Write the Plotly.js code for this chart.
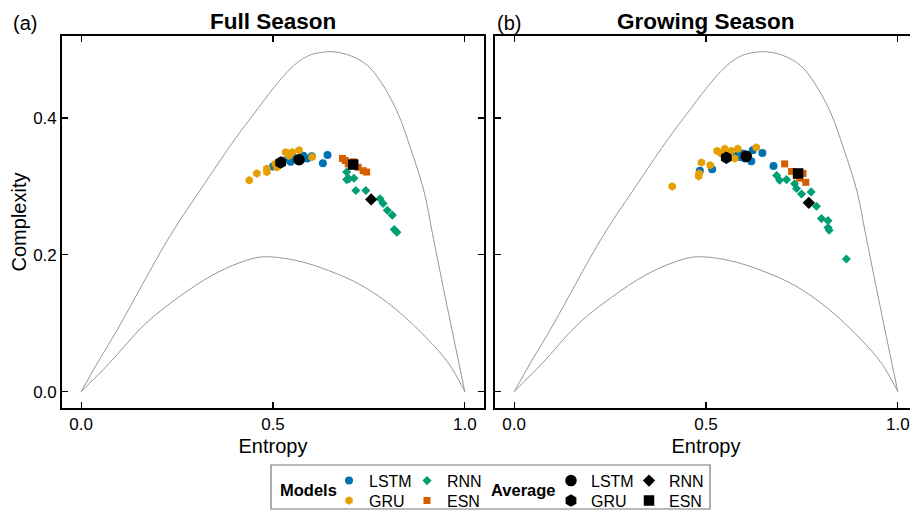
<!DOCTYPE html>
<html>
<head>
<meta charset="utf-8">
<script src="https://cdn.plot.ly/plotly-3.0.1.min.js"></script>
<style>
html, body { margin: 0; padding: 0; overflow: hidden; background: #fff; }
#chart { width: 920px; height: 510px; }
</style>
</head>
<body>
<div id="chart"></div>
<script>
// ---------- data ----------
const models = ['LSTM', 'GRU', 'RNN', 'ESN'];

// Full season
const fullLSTM_x = [0.500, 0.527, 0.546, 0.560, 0.576, 0.589, 0.601, 0.579, 0.642, 0.630, 0.550];
const fullLSTM_y = [0.329, 0.338, 0.336, 0.341, 0.341, 0.341, 0.344, 0.345, 0.346, 0.334, 0.345];
const fullGRU_x = [0.438, 0.458, 0.484, 0.484, 0.506, 0.516, 0.533, 0.542, 0.568, 0.602, 0.510, 0.550];
const fullGRU_y = [0.309, 0.319, 0.321, 0.326, 0.333, 0.336, 0.350, 0.345, 0.353, 0.343, 0.328, 0.350];
const fullRNN_x = [0.692, 0.698, 0.711, 0.692, 0.716, 0.742, 0.779, 0.798, 0.811, 0.816, 0.823, 0.787];
const fullRNN_y = [0.321, 0.311, 0.312, 0.310, 0.294, 0.294, 0.282, 0.265, 0.258, 0.237, 0.233, 0.275];
const fullESN_x = [0.681, 0.696, 0.709, 0.722, 0.735, 0.744, 0.688];
const fullESN_y = [0.341, 0.333, 0.336, 0.328, 0.323, 0.321, 0.338];
const fullAvg_x = [0.568, 0.520, 0.756, 0.709];   // LSTM, GRU, RNN, ESN
const fullAvg_y = [0.339, 0.335, 0.281, 0.332];

// Growing season
const growLSTM_x = [0.484, 0.516, 0.676, 0.647, 0.618, 0.596, 0.588, 0.622, 0.579, 0.601];
const growLSTM_y = [0.323, 0.325, 0.330, 0.349, 0.337, 0.348, 0.343, 0.353, 0.345, 0.341];
const growGRU_x = [0.412, 0.488, 0.482, 0.511, 0.529, 0.549, 0.566, 0.583, 0.631, 0.575, 0.540, 0.481];
const growGRU_y = [0.300, 0.335, 0.319, 0.331, 0.352, 0.355, 0.352, 0.355, 0.357, 0.341, 0.348, 0.315];
const growRNN_x = [0.684, 0.692, 0.710, 0.731, 0.736, 0.749, 0.774, 0.788, 0.801, 0.818, 0.818, 0.821, 0.866];
const growRNN_y = [0.316, 0.309, 0.310, 0.304, 0.297, 0.289, 0.292, 0.271, 0.253, 0.250, 0.240, 0.236, 0.194];
const growESN_x = [0.705, 0.723, 0.753, 0.760, 0.736, 0.744];
const growESN_y = [0.333, 0.322, 0.319, 0.306, 0.316, 0.312];
const growAvg_x = [0.605, 0.553, 0.768, 0.740];
const growAvg_y = [0.344, 0.342, 0.276, 0.319];

// Complexity-entropy plane bounds
const upper_x = [0, 0.041, 0.0925, 0.232, 0.324, 0.402, 0.450, 0.500, 0.530, 0.563, 0.585, 0.607, 0.655, 0.703, 0.746, 0.781, 0.824, 0.859, 0.894, 0.915, 0.949, 1.0];
const upper_y = [0, 0.0405, 0.089, 0.228, 0.306, 0.370, 0.406, 0.443, 0.463, 0.481, 0.489, 0.494, 0.497, 0.491, 0.477, 0.453, 0.409, 0.355, 0.292, 0.233, 0.138, 0];
const lower_x = [0, 0.0717, 0.167, 0.254, 0.341, 0.411, 0.471, 0.558, 0.645, 0.732, 0.819, 0.906, 0.958, 1.0];
const lower_y = [0, 0.0405, 0.099, 0.138, 0.170, 0.188, 0.197, 0.192, 0.177, 0.155, 0.121, 0.075, 0.041, 0];

const xTicks = [0, 0.5, 1.0];
const yTicks = [0, 0.2, 0.4];

// ---------- styling ----------
const FONT = 'Liberation Sans, Arial, Helvetica, sans-serif';
const colors = { LSTM: '#0072B2', GRU: '#E69F00', RNN: '#009E73', ESN: '#D55E00' };
const symbols = { LSTM: 'circle', GRU: 'hexagon', RNN: 'diamond', ESN: 'square' };
const sizes = { LSTM: 8, GRU: 8.5, RNN: 7, ESN: 7 };
const avgSizes = { LSTM: 11.5, GRU: 12.5, RNN: 9.5, ESN: 10.5 };
const modelLegend = { LSTM: 'legend', RNN: 'legend', GRU: 'legend2', ESN: 'legend2' };
const avgLegend = { LSTM: 'legend3', RNN: 'legend3', GRU: 'legend4', ESN: 'legend4' };
const rank = { LSTM: 1, GRU: 1, RNN: 2, ESN: 2 };

const panels = [
  { xa: 'x', ya: 'y', show: true,
    pts: { LSTM: [fullLSTM_x, fullLSTM_y], GRU: [fullGRU_x, fullGRU_y], RNN: [fullRNN_x, fullRNN_y], ESN: [fullESN_x, fullESN_y] },
    ax: fullAvg_x, ay: fullAvg_y },
  { xa: 'x2', ya: 'y2', show: false,
    pts: { LSTM: [growLSTM_x, growLSTM_y], GRU: [growGRU_x, growGRU_y], RNN: [growRNN_x, growRNN_y], ESN: [growESN_x, growESN_y] },
    ax: growAvg_x, ay: growAvg_y }
];

const traces = [];
panels.forEach(p => {
  [[upper_x, upper_y], [lower_x, lower_y]].forEach(c => {
    traces.push({ x: c[0], y: c[1], xaxis: p.xa, yaxis: p.ya, type: 'scatter', mode: 'lines',
      line: { color: 'rgb(150,150,150)', width: 1, shape: 'spline', smoothing: 1.0 },
      showlegend: false, hoverinfo: 'skip' });
  });
  models.forEach(m => {
    traces.push({ x: p.pts[m][0], y: p.pts[m][1], xaxis: p.xa, yaxis: p.ya, type: 'scatter', mode: 'markers',
      name: m, legend: modelLegend[m], legendrank: rank[m], showlegend: p.show,
      marker: { color: colors[m], symbol: symbols[m], size: sizes[m], line: { width: 0 } } });
  });
  models.forEach((m, i) => {
    traces.push({ x: [p.ax[i]], y: [p.ay[i]], xaxis: p.xa, yaxis: p.ya, type: 'scatter', mode: 'markers',
      name: m, legend: avgLegend[m], legendrank: rank[m], showlegend: p.show,
      marker: { color: '#000000', symbol: symbols[m], size: avgSizes[m], line: { width: 0 } } });
  });
});

// ---------- layout ----------
const W = 920, H = 510, ML = 62, MR = 3, MT = 36, MB = 102;
const PW = W - ML - MR, PH = H - MT - MB;
const px = v => (v - ML) / PW;
const py = v => (H - MB - v) / PH;

const axisCommon = {
  range: [-0.05, 1.05], tickvals: xTicks, ticktext: xTicks.map(v => v.toFixed(1)),
  ticks: 'inside', ticklen: 6, tickwidth: 1.3, tickcolor: '#000',
  showline: true, linecolor: '#000', linewidth: 1.8, mirror: 'ticks',
  showgrid: false, zeroline: false, tickfont: { family: FONT, size: 17, color: '#000' },
  title: { text: 'Entropy', font: { family: FONT, size: 20, color: '#000' }, standoff: 6 }
};
const yCommon = {
  range: [-0.024, 0.52], tickvals: yTicks, ticktext: yTicks.map(v => v.toFixed(1)),
  ticks: 'inside', ticklen: 6, tickwidth: 1.3, tickcolor: '#000',
  showline: true, linecolor: '#000', linewidth: 1.8, mirror: 'ticks',
  showgrid: false, zeroline: false, tickfont: { family: FONT, size: 17, color: '#000' }
};

const legendCommon = {
  orientation: 'h', xanchor: 'left', yanchor: 'middle', bgcolor: 'rgba(0,0,0,0)',
  borderwidth: 0, font: { family: FONT, size: 16, color: '#000' }, entrywidth: 33,
  itemclick: false, itemdoubleclick: false
};

const layout = {
  width: W, height: H,
  margin: { l: ML, r: MR, t: MT, b: MB, autoexpand: false },
  paper_bgcolor: '#fff', plot_bgcolor: '#fff',
  font: { family: FONT, color: '#000' },
  xaxis: Object.assign({}, axisCommon, { domain: [0, 422 / PW], anchor: 'y' }),
  yaxis: Object.assign({}, yCommon, { anchor: 'x',
    title: { text: 'Complexity', font: { family: FONT, size: 20, color: '#000' }, standoff: 1 } }),
  xaxis2: Object.assign({}, axisCommon, { domain: [433 / PW, 1], anchor: 'y2' }),
  yaxis2: Object.assign({}, yCommon, { anchor: 'x2', showticklabels: false }),
  showlegend: true,
  legend: Object.assign({}, legendCommon, { x: px(329), y: py(480.7) }),
  legend2: Object.assign({}, legendCommon, { x: px(329), y: py(500.7) }),
  legend3: Object.assign({}, legendCommon, { x: px(551), y: py(480.7) }),
  legend4: Object.assign({}, legendCommon, { x: px(551), y: py(500.7) }),
  shapes: [
    { type: 'rect', xref: 'paper', yref: 'paper', x0: px(271), x1: px(710), y0: py(509), y1: py(465),
      line: { color: '#777', width: 1.2 }, fillcolor: 'rgba(0,0,0,0)' }
  ],
  annotations: [
    { text: '<b>Full Season</b>', xref: 'paper', yref: 'paper', x: px(273), y: py(21.5), xanchor: 'center', yanchor: 'middle',
      showarrow: false, font: { family: FONT, size: 22.5, color: '#000' } },
    { text: '<b>Growing Season</b>', xref: 'paper', yref: 'paper', x: px(706), y: py(21.5), xanchor: 'center', yanchor: 'middle',
      showarrow: false, font: { family: FONT, size: 22.5, color: '#000' } },
    { text: '(a)', xref: 'paper', yref: 'paper', x: px(11), y: py(23), xanchor: 'left', yanchor: 'middle',
      showarrow: false, font: { family: FONT, size: 20, color: '#000' } },
    { text: '(b)', xref: 'paper', yref: 'paper', x: px(495), y: py(23), xanchor: 'left', yanchor: 'middle',
      showarrow: false, font: { family: FONT, size: 20, color: '#000' } },
    { text: '<b>Models</b>', xref: 'paper', yref: 'paper', x: px(278), y: py(490), xanchor: 'left', yanchor: 'middle',
      showarrow: false, font: { family: FONT, size: 16.5, color: '#000' } },
    { text: '<b>Average</b>', xref: 'paper', yref: 'paper', x: px(489), y: py(490), xanchor: 'left', yanchor: 'middle',
      showarrow: false, font: { family: FONT, size: 16.5, color: '#000' } }
  ]
};

Plotly.newPlot('chart', traces, layout, { displayModeBar: false, staticPlot: true });
</script>
</body>
</html>
